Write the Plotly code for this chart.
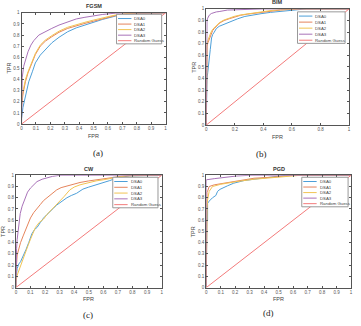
import plotly.graph_objects as go

W, H = 361, 326

NAMES = ["DSA0", "DSA1", "DSA2", "DSA3"]
COLORS = ["#4d9fd8", "#e5845c", "#f1c453", "#a872b8"]
RAND_COLOR = "#f37b7b"

# ---- (a) FGSM ----
fgsm_fpr0 = [0, 0, 0.01, 0.027, 0.05, 0.075, 0.096, 0.13, 0.165, 0.21, 0.26, 0.32, 0.38, 0.44, 0.5, 0.56, 0.65, 0.72, 0.8, 1]
fgsm_tpr0 = [0, 0.05, 0.15, 0.26, 0.38, 0.47, 0.55, 0.62, 0.67, 0.73, 0.78, 0.83, 0.865, 0.89, 0.915, 0.94, 0.97, 0.985, 0.995, 1]
fgsm_fpr1 = [0, 0, 0.01, 0.027, 0.045, 0.062, 0.08, 0.096, 0.13, 0.165, 0.21, 0.26, 0.32, 0.38, 0.44, 0.5, 0.56, 0.65, 0.72, 0.8, 1]
fgsm_tpr1 = [0, 0.15, 0.27, 0.38, 0.46, 0.52, 0.58, 0.625, 0.70, 0.745, 0.785, 0.825, 0.86, 0.885, 0.905, 0.925, 0.945, 0.975, 0.99, 0.998, 1]
fgsm_fpr2 = [0, 0, 0.01, 0.027, 0.045, 0.062, 0.08, 0.096, 0.13, 0.165, 0.21, 0.26, 0.32, 0.38, 0.44, 0.5, 0.56, 0.65, 0.72, 0.8, 1]
fgsm_tpr2 = [0, 0.18, 0.29, 0.40, 0.47, 0.53, 0.59, 0.635, 0.71, 0.755, 0.795, 0.835, 0.87, 0.895, 0.915, 0.935, 0.955, 0.98, 0.993, 0.999, 1]
fgsm_fpr3 = [0, 0, 0.005, 0.015, 0.027, 0.045, 0.065, 0.085, 0.12, 0.16, 0.21, 0.26, 0.32, 0.38, 0.44, 0.5, 0.56, 0.65, 0.72, 1]
fgsm_tpr3 = [0, 0.3, 0.42, 0.52, 0.58, 0.65, 0.71, 0.75, 0.80, 0.83, 0.86, 0.89, 0.92, 0.945, 0.96, 0.975, 0.985, 0.997, 1, 1]

# ---- (b) BIM ----
bim_fpr0 = [0, 0, 0.005, 0.01, 0.014, 0.02, 0.028, 0.037, 0.045, 0.056, 0.07, 0.09, 0.12, 0.148, 0.18, 0.22, 0.27, 0.33, 0.39, 0.45, 0.54, 0.62, 0.7, 1]
bim_tpr0 = [0, 0.38, 0.40, 0.45, 0.51, 0.58, 0.65, 0.75, 0.78, 0.80, 0.83, 0.85, 0.865, 0.88, 0.9, 0.915, 0.935, 0.95, 0.96, 0.97, 0.982, 0.99, 1, 1]
bim_fpr1 = [0, 0, 0.005, 0.012, 0.02, 0.033, 0.045, 0.056, 0.07, 0.09, 0.11, 0.125, 0.16, 0.194, 0.24, 0.29, 0.35, 0.40, 0.46, 0.52, 0.6, 0.66, 1]
bim_tpr1 = [0, 0.64, 0.68, 0.71, 0.74, 0.79, 0.815, 0.83, 0.85, 0.875, 0.89, 0.90, 0.915, 0.93, 0.945, 0.955, 0.965, 0.975, 0.985, 0.99, 0.997, 1, 1]
bim_fpr2 = [0, 0, 0.005, 0.012, 0.02, 0.033, 0.045, 0.056, 0.07, 0.09, 0.11, 0.125, 0.16, 0.194, 0.24, 0.29, 0.35, 0.40, 0.46, 0.52, 0.6, 0.66, 1]
bim_tpr2 = [0, 0.66, 0.70, 0.73, 0.76, 0.80, 0.825, 0.84, 0.86, 0.88, 0.895, 0.905, 0.92, 0.935, 0.948, 0.958, 0.968, 0.978, 0.987, 0.992, 0.998, 1, 1]
bim_fpr3 = [0, 0, 0.005, 0.01, 0.021, 0.035, 0.056, 0.07, 0.09, 0.12, 0.148, 0.2, 0.26, 0.33, 0.4, 1]
bim_tpr3 = [0, 0.88, 0.90, 0.92, 0.946, 0.96, 0.97, 0.974, 0.977, 0.985, 0.99, 0.992, 0.994, 0.997, 1, 1]

# ---- (c) CW ----
cw_fpr0 = [0, 0, 0.009, 0.02, 0.032, 0.054, 0.07, 0.088, 0.11, 0.13, 0.145, 0.168, 0.19, 0.213, 0.24, 0.26, 0.28, 0.30, 0.33, 0.35, 0.38, 0.417, 0.44, 0.46, 0.5, 0.553, 0.6, 0.644, 0.68, 0.71, 0.78, 1]
cw_tpr0 = [0, 0.08, 0.17, 0.21, 0.23, 0.29, 0.34, 0.40, 0.48, 0.52, 0.535, 0.58, 0.62, 0.65, 0.69, 0.71, 0.735, 0.755, 0.785, 0.80, 0.82, 0.84, 0.86, 0.877, 0.895, 0.915, 0.935, 0.953, 0.97, 0.98, 0.995, 1]
cw_fpr1 = [0, 0, 0.009, 0.02, 0.032, 0.05, 0.077, 0.1, 0.122, 0.145, 0.168, 0.19, 0.213, 0.25, 0.28, 0.31, 0.35, 0.4, 0.44, 0.5, 0.553, 0.6, 0.667, 0.72, 0.8, 1]
cw_tpr1 = [0, 0.12, 0.29, 0.35, 0.40, 0.46, 0.55, 0.62, 0.667, 0.70, 0.74, 0.775, 0.80, 0.84, 0.87, 0.89, 0.906, 0.92, 0.936, 0.95, 0.96, 0.97, 0.98, 0.99, 0.998, 1]
cw_fpr2 = [0, 0, 0.009, 0.02, 0.032, 0.05, 0.066, 0.085, 0.1, 0.12, 0.134, 0.16, 0.19, 0.213, 0.236, 0.27, 0.30, 0.33, 0.37, 0.40, 0.44, 0.48, 0.51, 0.55, 0.6, 0.68, 0.75, 1]
cw_tpr2 = [0, 0.05, 0.11, 0.15, 0.20, 0.27, 0.315, 0.38, 0.43, 0.49, 0.535, 0.58, 0.61, 0.65, 0.68, 0.73, 0.77, 0.81, 0.87, 0.895, 0.915, 0.93, 0.94, 0.95, 0.96, 0.98, 0.995, 1]
cw_fpr3 = [0, 0, 0.005, 0.009, 0.02, 0.03, 0.043, 0.055, 0.066, 0.08, 0.1, 0.12, 0.145, 0.18, 0.213, 0.25, 0.3, 1]
cw_tpr3 = [0, 0.25, 0.35, 0.43, 0.58, 0.66, 0.725, 0.77, 0.81, 0.85, 0.886, 0.915, 0.944, 0.965, 0.98, 0.99, 1, 1]

# ---- (d) PGD ----
pgd_fpr0 = [0, 0, 0.004, 0.004, 0.009, 0.009, 0.02, 0.043, 0.066, 0.078, 0.095, 0.11, 0.146, 0.19, 0.26, 0.33, 0.44, 0.55, 1]
pgd_tpr0 = [0, 0.48, 0.48, 0.60, 0.60, 0.75, 0.77, 0.80, 0.82, 0.857, 0.875, 0.886, 0.906, 0.93, 0.953, 0.965, 0.982, 1, 1]
pgd_fpr1 = [0, 0, 0.005, 0.009, 0.02, 0.055, 0.123, 0.21, 0.33, 0.44, 0.6, 1]
pgd_tpr1 = [0, 0.80, 0.85, 0.857, 0.90, 0.915, 0.93, 0.953, 0.974, 0.982, 1, 1]
pgd_fpr2 = [0, 0, 0.005, 0.009, 0.02, 0.043, 0.1, 0.21, 0.33, 0.44, 0.65, 1]
pgd_tpr2 = [0, 0.70, 0.72, 0.78, 0.857, 0.90, 0.92, 0.944, 0.965, 0.977, 1, 1]
pgd_fpr3 = [0, 0, 0.055, 0.123, 0.21, 0.3, 1]
pgd_tpr3 = [0, 0.96, 0.97, 0.98, 0.994, 1, 1]

rand_x = [0, 1]
rand_y = [0, 1]

x_ticks_fine = [0, 0.1, 0.2, 0.3, 0.4, 0.5, 0.6, 0.7, 0.8, 0.9, 1]
x_ticks_coarse = [0, 0.2, 0.4, 0.6, 0.8, 1]
y_ticks = [0, 0.1, 0.2, 0.3, 0.4, 0.5, 0.6, 0.7, 0.8, 0.9, 1]

# panel: title, caption, curves, xticks, plot box in pixels (left, top, right, bottom), legend box in pixels
panels = [
    dict(title="FGSM", cap="(a)", xt=x_ticks_fine, box=(20.7, 11, 166, 124), leg=(116.5, 12.5, 45.5, 30),
         cap_xy=(98, 153),
         curves=[(fgsm_fpr0, fgsm_tpr0), (fgsm_fpr1, fgsm_tpr1), (fgsm_fpr2, fgsm_tpr2), (fgsm_fpr3, fgsm_tpr3)]),
    dict(title="BIM", cap="(b)", xt=x_ticks_coarse, box=(207, 7, 351, 125), leg=(299, 10, 48, 32),
         cap_xy=(263, 154),
         curves=[(bim_fpr0, bim_tpr0), (bim_fpr1, bim_tpr1), (bim_fpr2, bim_tpr2), (bim_fpr3, bim_tpr3)]),
    dict(title="CW", cap="(c)", xt=x_ticks_fine, box=(15, 176, 162, 290), leg=(112.7, 178, 45.6, 31),
         cap_xy=(88, 318),
         curves=[(cw_fpr0, cw_tpr0), (cw_fpr1, cw_tpr1), (cw_fpr2, cw_tpr2), (cw_fpr3, cw_tpr3)]),
    dict(title="PGD", cap="(d)", xt=x_ticks_fine, box=(207, 176, 353, 290), leg=(303.3, 178, 46.7, 30),
         cap_xy=(270, 316),
         curves=[(pgd_fpr0, pgd_tpr0), (pgd_fpr1, pgd_tpr1), (pgd_fpr2, pgd_tpr2), (pgd_fpr3, pgd_tpr3)]),
]


def px(x):
    return x / W


def py(y):
    return 1 - y / H


fig = go.Figure()
shapes = []
annots = []
SANS = "Liberation Sans"

for i, p in enumerate(panels):
    n = "" if i == 0 else str(i + 1)
    xa, ya = "x" + n, "y" + n
    for (fx, ty), name, col in zip(p["curves"], NAMES, COLORS):
        fig.add_trace(go.Scatter(x=fx, y=ty, mode="lines", name=name, xaxis=xa, yaxis=ya,
                                 line=dict(color=col, width=1), showlegend=False))
    fig.add_trace(go.Scatter(x=rand_x, y=rand_y, mode="lines", name="Random Guess", xaxis=xa, yaxis=ya,
                             line=dict(color=RAND_COLOR, width=1), showlegend=False))

    l, t, r, b = p["box"]
    ax = dict(range=[0, 1], showgrid=False, zeroline=False, showline=True, linecolor="#555",
              linewidth=1, mirror="allticks", ticks="inside", ticklen=2, tickcolor="#555",
              tickfont=dict(size=4.5, color="#555", family=SANS), fixedrange=True)
    fig.layout["xaxis" + n] = dict(ax, domain=[px(l), px(r)], anchor=ya, tickvals=p["xt"])
    fig.layout["yaxis" + n] = dict(ax, domain=[py(b), py(t)], anchor=xa, tickvals=y_ticks)

    cx = (l + r) / 2
    annots.append(dict(text="<b>" + p["title"] + "</b>", x=px(cx), y=py(t - 1.5), xref="paper", yref="paper",
                       xanchor="center", yanchor="bottom", showarrow=False,
                       font=dict(size=5.5, color="#333", family=SANS)))
    annots.append(dict(text="FPR", x=px(cx), y=py(b + 12), xref="paper", yref="paper",
                       xanchor="center", yanchor="middle", showarrow=False,
                       font=dict(size=5.5, color="#444", family=SANS)))
    annots.append(dict(text="TPR", x=px(l - 12.5), y=py((t + b) / 2), xref="paper", yref="paper",
                       xanchor="center", yanchor="middle", showarrow=False, textangle=-90,
                       font=dict(size=5.5, color="#444", family=SANS)))
    annots.append(dict(text=p["cap"], x=px(p["cap_xy"][0]), y=py(p["cap_xy"][1]), xref="paper", yref="paper",
                       xanchor="center", yanchor="middle", showarrow=False,
                       font=dict(size=9, color="#222", family="Liberation Serif")))

    # MATLAB-style compact legend box
    gl, gt, gw, gh = p["leg"]
    shapes.append(dict(type="rect", xref="paper", yref="paper", x0=px(gl), x1=px(gl + gw),
                       y0=py(gt + gh), y1=py(gt), fillcolor="white", line=dict(color="#999", width=1)))
    step = (gh - 7.5) / 4
    for k, (name, col) in enumerate(zip(NAMES + ["Random Guess"], COLORS + [RAND_COLOR])):
        yy = gt + 4.3 + k * step
        shapes.append(dict(type="line", xref="paper", yref="paper", x0=px(gl + 1.5), x1=px(gl + 15),
                           y0=py(yy), y1=py(yy), line=dict(color=col, width=1)))
        annots.append(dict(text=name, x=px(gl + 16), y=py(yy), xref="paper", yref="paper",
                           xanchor="left", yanchor="middle", showarrow=False,
                           font=dict(size=4.3, color="#444", family=SANS)))

fig.update_layout(width=W, height=H, margin=dict(l=0, r=0, t=0, b=0),
                  paper_bgcolor="white", plot_bgcolor="white",
                  shapes=shapes, annotations=annots, showlegend=False)

# drop the browser's default page margin so the figure sits at the window's corner
fig.write_html("out.html", config={"displayModeBar": False},
               post_script="document.body.style.margin='0';")
